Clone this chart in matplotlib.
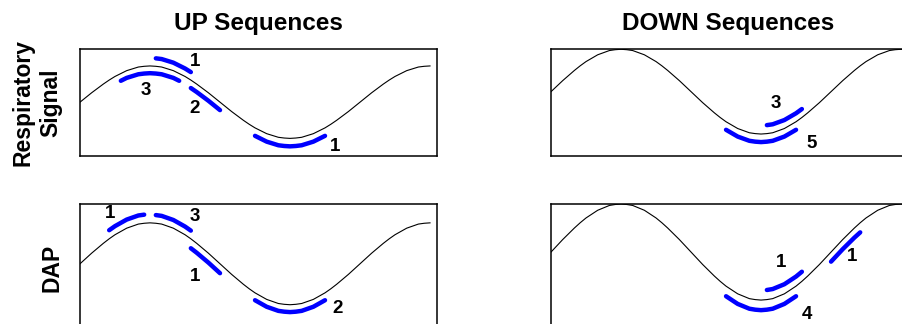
import numpy as np
import matplotlib.pyplot as plt

# respiratory cycle, one sample every 1/48 of a period
resp = [0.00, 0.13, 0.26, 0.38, 0.50, 0.61, 0.71, 0.79, 0.87, 0.92, 0.97, 0.99,
        1.00, 0.99, 0.97, 0.92, 0.87, 0.79, 0.71, 0.61, 0.50, 0.38, 0.26, 0.13,
        0.00, -0.13, -0.26, -0.38, -0.50, -0.61, -0.71, -0.79, -0.87, -0.92, -0.97, -0.99,
        -1.00, -0.99, -0.97, -0.92, -0.87, -0.79, -0.71, -0.61, -0.50, -0.38, -0.26, -0.13,
        0.00, 0.13, 0.26, 0.38, 0.50, 0.61, 0.71, 0.79, 0.87, 0.92, 0.97, 0.99,
        1.00, 0.99, 0.97]

col_titles = ['UP Sequences', 'DOWN Sequences']
row_titles = ['Respiratory\nSignal', 'DAP']

# sequences: (first sample, last sample, offset from trace, count)
seq_up_resp = [(13, 19, 0.22, '1'), (7, 17, -0.20, '3'), (19, 24, -0.22, '2'), (30, 42, -0.22, '1')]
seq_up_dap = [(5, 11, 0.21, '1'), (13, 19, 0.20, '3'), (19, 24, -0.23, '1'), (30, 42, -0.18, '2')]
seq_down_resp = [(37, 43, 0.20, '3'), (30, 42, -0.19, '5')]
seq_down_dap = [(37, 43, 0.20, '1'), (48, 53, -0.20, '1'), (30, 42, -0.21, '4')]

# where each count is written (sample, value)
lab_up_resp = [(19.7, 1.11), (11.3, 0.33), (19.7, -0.17), (43.7, -1.22)]
lab_up_dap = [(5.1, 1.24), (19.7, 1.15), (19.7, -0.32), (44.2, -1.10)]
lab_down_resp = [(38.6, -0.28), (44.7, -1.22)]
lab_down_dap = [(39.4, -0.21), (51.6, -0.10), (43.9, -1.30)]

plt.rcParams['font.family'] = ['Liberation Sans', 'DejaVu Sans']
plt.rcParams['font.weight'] = 'bold'

fig = plt.figure(figsize=(9.02, 3.24), dpi=100)
W = 0.3958
pos = {
    (0, 0): [0.0887, 0.5170, W, 0.3309],
    (0, 1): [0.6109, 0.5170, W, 0.3309],
    (1, 0): [0.0887, -0.0062, W, 0.3765],
    (1, 1): [0.6109, -0.0062, W, 0.3765],
}
ylims = {(0, 0): (-1.50, 1.46), (0, 1): (-1.53, 1.0),
         (1, 0): (-1.52, 1.46), (1, 1): (-1.54, 1.0)}
panels = {(0, 0): (seq_up_resp, lab_up_resp), (0, 1): (seq_down_resp, lab_down_resp),
          (1, 0): (seq_up_dap, lab_up_dap), (1, 1): (seq_down_dap, lab_down_dap)}

y = np.array(resp)
t = np.arange(len(y))
for (r, c), (seqs, labs) in panels.items():
    ax = fig.add_axes(pos[(r, c)])
    n = 61 if c == 0 else len(y)
    ax.plot(t[:n], y[:n], color='black', lw=0.8)
    for (i0, i1, off, cnt), (lx, ly) in zip(seqs, labs):
        ax.plot(t[i0:i1 + 1], y[i0:i1 + 1] + off, color='#0000ff', lw=3.2,
                solid_capstyle='round')
        ax.text(lx, ly, cnt, fontsize=13.5, fontweight='bold', ha='center', va='center')
    ax.set_xlim(0, 61.2)
    ax.set_ylim(*ylims[(r, c)])
    ax.set_xticks([])
    ax.set_yticks([])
    for s in ax.spines.values():
        s.set_linewidth(1.1)

fig.text(0.286, 0.929, col_titles[0], fontsize=17.5, fontweight='bold', ha='center', va='center')
fig.text(0.8077, 0.929, col_titles[1], fontsize=17.5, fontweight='bold', ha='center', va='center')
fig.text(0.041, 0.683, row_titles[0], fontsize=16.5, fontweight='bold', rotation=90,
         ha='center', va='center', multialignment='center', linespacing=1.3)
fig.text(0.0573, 0.174, row_titles[1], fontsize=16.5, fontweight='bold', rotation=90,
         ha='center', va='center')

plt.savefig('out.png', dpi=100)
